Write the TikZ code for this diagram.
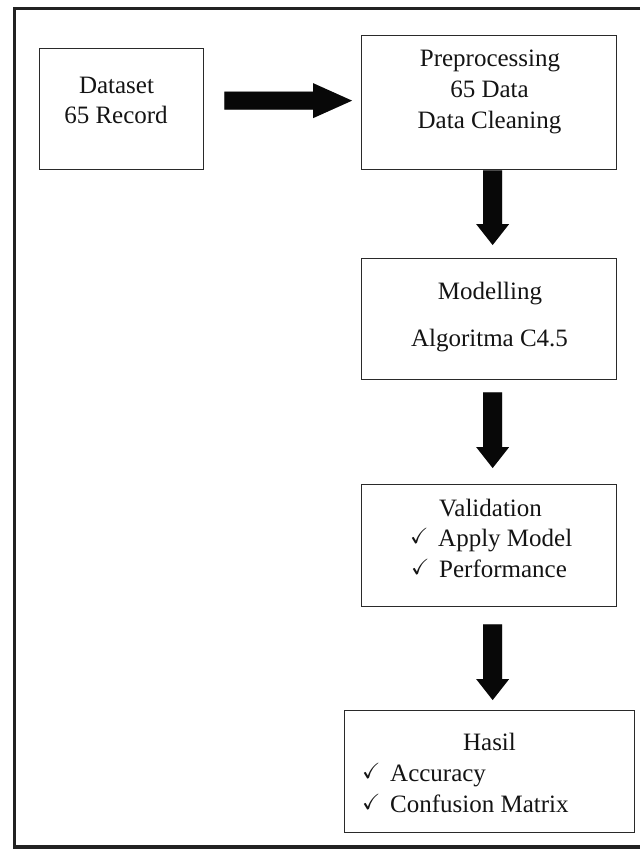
\documentclass[tikz,border=0pt]{standalone}
\usepackage{fontspec}
\usepackage{amssymb}
\setmainfont{Liberation Serif}
\usetikzlibrary{calc}
\definecolor{boxc}{HTML}{2A2A2A}
\definecolor{txtc}{HTML}{141414}
\definecolor{arrowc}{HTML}{080808}
\definecolor{shadowc}{HTML}{B0B0B0}
\definecolor{framec}{HTML}{222222}
\newcommand\ck{\makebox[28pt][l]{\raisebox{3pt}{\fontsize{22}{22}\selectfont$\checkmark$}}}
\newcommand\harrowdraw[3]{\fill[#3] let \p1=(#1), \p2=(#2) in
  (\x1,\y1+9pt) -- (\x2-39pt,\y1+9pt) -- (\x2-39pt,\y1+17.5pt) -- (\x2,\y1)
  -- (\x2-39pt,\y1-17.5pt) -- (\x2-39pt,\y1-9pt) -- (\x1,\y1-9pt) -- cycle;}
\newcommand\varrowdraw[3]{\fill[#3] let \p1=(#1), \p2=(#2) in
  (\x1-9.5pt,\y1) -- (\x1+9.5pt,\y1) -- (\x1+9.5pt,\y2+21pt) -- (\x1+16.5pt,\y2+21pt)
  -- (\x1,\y2) -- (\x1-16.5pt,\y2+21pt) -- (\x1-9.5pt,\y2+21pt) -- cycle;}
\tikzset{
  box/.style={draw=boxc, line width=1.3pt, inner sep=0pt, anchor=north west},
  txt/.style={font=\fontsize{25}{31}\selectfont, inner sep=0pt, anchor=base, text=txtc},
  txtl/.style={txt, anchor=base west},
  blockfill/.style={fill=arrowc},
  blockshadow/.style={fill=shadowc, xshift=1.5pt, yshift=-1.5pt},
}
\begin{document}
\begin{tikzpicture}[x=1pt,y=-1pt]
\useasboundingbox (0,0) rectangle (640,850);
\fill[white] (0,0) rectangle (640,850);
% outer frame (right side cut off)
\draw[framec, line width=3.2pt] (640,8.5) -- (14.5,8.5) -- (14.5,847) -- (640,847);
% boxes
\node[box, minimum width=164pt, minimum height=121pt] (ds) at (39,48) {};
\node[box, minimum width=255pt, minimum height=134pt] (prep) at (361,35) {};
\node[box, minimum width=255pt, minimum height=121pt] (model) at (361,258) {};
\node[box, minimum width=255pt, minimum height=122pt] (valid) at (361,484) {};
\node[box, minimum width=290pt, minimum height=122pt] (hasil) at (344,710) {};
% texts
\node[txt] (t1) at (116.5,93.3) {Dataset};
\node[txt] (t2) at (116,124) {65 Record};
\node[txt] (t3) at (490,66.5) {Preprocessing};
\node[txt] (t4) at (489.5,97.5) {65 Data};
\node[txt] (t5) at (489.5,128.5) {Data Cleaning};
\node[txt] (t6) at (490,299) {Modelling};
\node[txt] (t7) at (489.5,346.7) {Algoritma C4.5};
\node[txt] (t8) at (490.5,516) {Validation};
\node[txtl] (t9) at (410,546.7) {\ck Apply Model};
\node[txtl] (t10) at (411,577.7) {\ck Performance};
\node[txt] (t11) at (489.5,750) {Hasil};
\node[txtl] (t12) at (362,781.5) {\ck Accuracy};
\node[txtl] (t13) at (362,812.7) {\ck Confusion Matrix};
% arrow end points
\coordinate (a1s) at ($(ds.east)+(20,-8.5)$);
\coordinate (a1e) at ($(prep.west)+(-9,0)$);
\coordinate (a2s) at ($(prep.south)+(3.5,0)$);
\coordinate (a2e) at ($(model.north)+(3.5,-13)$);
\coordinate (a3s) at ($(model.south)+(3.5,12)$);
\coordinate (a3e) at ($(valid.north)+(3.5,-16)$);
\coordinate (a4s) at ($(valid.south)+(3.5,17)$);
\coordinate (a4e) at ($(hasil.north)+(3,-10)$);
% arrows
\harrowdraw{a1s}{a1e}{blockshadow}
\harrowdraw{a1s}{a1e}{blockfill}
\varrowdraw{a2s}{a2e}{blockshadow}
\varrowdraw{a2s}{a2e}{blockfill}
\varrowdraw{a3s}{a3e}{blockshadow}
\varrowdraw{a3s}{a3e}{blockfill}
\varrowdraw{a4s}{a4e}{blockshadow}
\varrowdraw{a4s}{a4e}{blockfill}
\end{tikzpicture}
\end{document}
